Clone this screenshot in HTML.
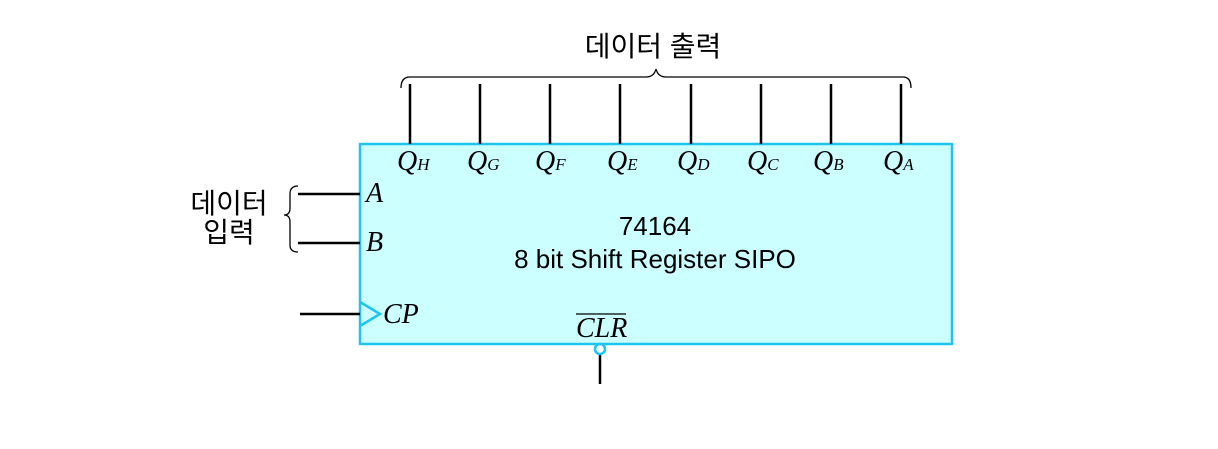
<!DOCTYPE html>
<html><head><meta charset="utf-8"><style>
html,body{margin:0;padding:0;background:#fff;}
</style></head><body>
<svg width="1218" height="444" xmlns="http://www.w3.org/2000/svg">
<rect x="360" y="144" width="592" height="200" fill="#ccffff" stroke="#1cc4ef" stroke-width="2.5"/>
<g stroke="#000" stroke-width="2.5">
<line x1="410" y1="84" x2="410" y2="144"/><line x1="480" y1="84" x2="480" y2="144"/>
<line x1="550" y1="84" x2="550" y2="144"/><line x1="620" y1="84" x2="620" y2="144"/>
<line x1="691" y1="84" x2="691" y2="144"/><line x1="761" y1="84" x2="761" y2="144"/>
<line x1="831" y1="84" x2="831" y2="144"/><line x1="901" y1="84" x2="901" y2="144"/>
<line x1="298" y1="194" x2="360" y2="194"/><line x1="298" y1="243" x2="360" y2="243"/>
<line x1="300" y1="314" x2="360" y2="314"/><line x1="600" y1="354" x2="600" y2="384"/>
</g>
<path d="M401,88 Q401,77 410,77 L646,77 Q654,77 656,69 Q658,77 666,77 L903,77 Q911,77 911,88" fill="none" stroke="#000" stroke-width="1.3"/>
<path d="M298,186 Q290,186 290,194 L290,208 Q290,215 284,215 Q290,215 290,222 L290,245 Q290,252 298,252" fill="none" stroke="#000" stroke-width="1.3"/>
<polyline points="360,302 380,314 360,326" fill="none" stroke="#1cc4ef" stroke-width="2.5"/>
<circle cx="600" cy="349" r="5" fill="#fff" stroke="#1cc4ef" stroke-width="2.5"/>
<text x="653" y="56" font-family="Liberation Sans, Noto Sans CJK KR, sans-serif" font-size="28" text-anchor="middle">데이터 출력</text>
<text x="229" y="213" font-family="Liberation Sans, Noto Sans CJK KR, sans-serif" font-size="28" text-anchor="middle">데이터</text>
<text x="229" y="242" font-family="Liberation Sans, Noto Sans CJK KR, sans-serif" font-size="28" text-anchor="middle">입력</text>
<g font-family="Liberation Serif, serif" font-style="italic" font-size="28">
<text x="397" y="170">Q<tspan font-size="17">H</tspan></text>
<text x="467" y="170">Q<tspan font-size="17">G</tspan></text>
<text x="535" y="170">Q<tspan font-size="17">F</tspan></text>
<text x="607" y="170">Q<tspan font-size="17">E</tspan></text>
<text x="677" y="170">Q<tspan font-size="17">D</tspan></text>
<text x="747" y="170">Q<tspan font-size="17">C</tspan></text>
<text x="813" y="170">Q<tspan font-size="17">B</tspan></text>
<text x="883" y="170">Q<tspan font-size="17">A</tspan></text>
<text x="366" y="202">A</text>
<text x="366" y="251">B</text>
<text x="383" y="323">CP</text>
<text x="576" y="337">CLR</text>
</g>
<line x1="576" y1="314" x2="626" y2="314" stroke="#000" stroke-width="1.3"/>
<text x="655" y="235" font-family="Liberation Sans, sans-serif" font-size="26" text-anchor="middle">74164</text>
<text x="655" y="268" font-family="Liberation Sans, sans-serif" font-size="26" text-anchor="middle">8 bit Shift Register SIPO</text>
</svg>
</body></html>
